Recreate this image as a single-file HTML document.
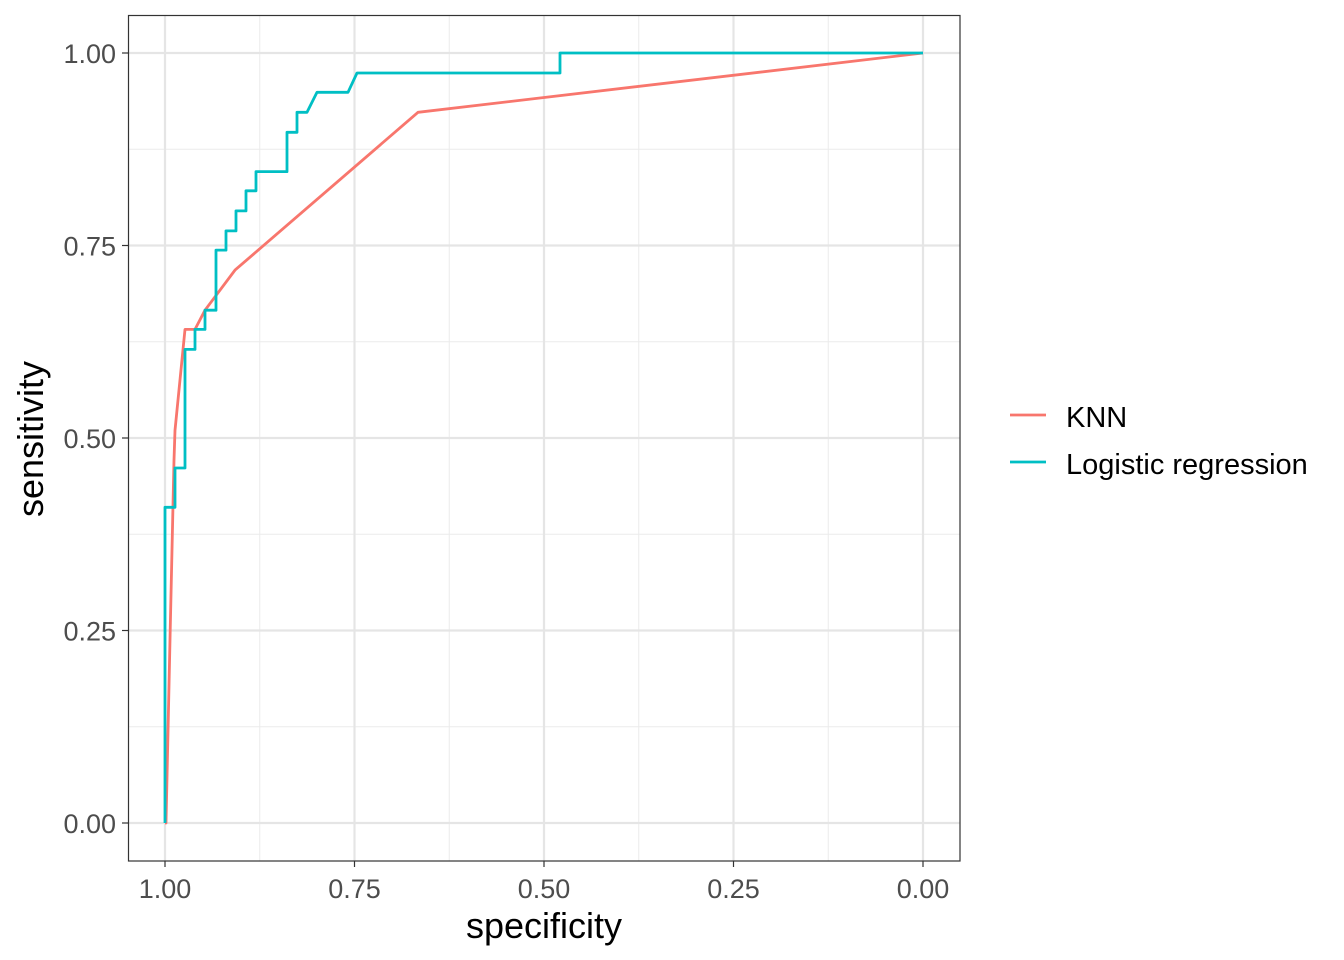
<!DOCTYPE html>
<html><head><meta charset="utf-8"><style>
body{margin:0;background:#fff;}
svg{display:block;font-family:"Liberation Sans",Arial,sans-serif;}
</style></head><body>
<svg id="chart" width="1344" height="960" viewBox="0 0 1344 960">
<rect width="1344" height="960" fill="#fff"/>
<g id="grid"></g><g id="series"></g><g id="axes"></g>
<rect x="128.5" y="15.5" width="831.5" height="845.5" fill="none" stroke="#333" stroke-width="1.2"/>
<text x="544" y="938" text-anchor="middle" font-size="36" fill="#000">specificity</text>
<text transform="translate(43,439) rotate(-90)" text-anchor="middle" font-size="36" fill="#000">sensitivity</text>
<g>
<line x1="1010" y1="415" x2="1046" y2="415" stroke="#F8766D" stroke-width="2.8"/>
<text x="1066" y="427" font-size="29" fill="#000">KNN</text>
<line x1="1010" y1="462" x2="1046" y2="462" stroke="#00BFC4" stroke-width="2.8"/>
<text x="1066" y="474" font-size="29" fill="#000">Logistic regression</text>
</g>
</svg>
<script>
const xTicks=[1.00,0.75,0.50,0.25,0.00];
const xTickLabels=["1.00","0.75","0.50","0.25","0.00"];
const yTicks=[0,0.25,0.5,0.75,1];
const yTickLabels=["0.00","0.25","0.50","0.75","1.00"];
const knnSpec=[1,0.9987,0.9934,0.9881,0.9868,0.9736,0.9604,0.9472,0.9077,0.6662,0];
const knnSens=[0,0,0.238,0.471,0.510,0.641,0.641,0.666,0.718,0.923,1];
const lrSpec=[1,1,0.9868,0.9868,0.9736,0.9736,0.9604,0.9604,0.9472,0.9472,0.9327,0.9327,0.9195,0.9195,0.9063,0.9063,0.8931,0.8931,0.8799,0.8799,0.8391,0.8391,0.8259,0.8259,0.8127,0.7995,0.7586,0.7467,0.4789,0.4789,0];
const lrSens=[0,0.410,0.410,0.461,0.461,0.615,0.615,0.641,0.641,0.666,0.666,0.744,0.744,0.769,0.769,0.795,0.795,0.821,0.821,0.846,0.846,0.897,0.897,0.923,0.923,0.949,0.949,0.974,0.974,1,1];
const NS="http://www.w3.org/2000/svg";
const xS=v=>165+(1-v)*758;
const yS=v=>823-v*770;
function mk(t,a,p){const e=document.createElementNS(NS,t);for(const k in a)e.setAttribute(k,a[k]);p.appendChild(e);return e;}
const grid=document.getElementById('grid'),axes=document.getElementById('axes'),ser=document.getElementById('series');
mk('rect',{x:128.5,y:15.5,width:831.5,height:845.5,fill:'#fff'},grid);
for(let i=0;i<xTicks.length-1;i++){const m=(xTicks[i]+xTicks[i+1])/2;const l=mk('line',{x1:xS(m),x2:xS(m),y1:15,y2:861,stroke:'#ebebeb','stroke-width':1},grid);

}
for(let i=0;i<yTicks.length-1;i++){const m=(yTicks[i]+yTicks[i+1])/2;const l=mk('line',{x1:128,x2:960,y1:yS(m),y2:yS(m),stroke:'#ebebeb','stroke-width':1},grid);

}
xTicks.forEach((v,i)=>{const l=mk('line',{x1:xS(v),x2:xS(v),y1:15,y2:861,stroke:'#e5e5e5','stroke-width':2.2},grid);


const t=mk('line',{x1:xS(v),x2:xS(v),y1:861,y2:867,stroke:'#333','stroke-width':1.2},axes);


const tx=mk('text',{x:xS(v),y:898,'text-anchor':'middle','font-size':27,fill:'#4d4d4d'},axes);tx.textContent=xTickLabels[i];

});
yTicks.forEach((v,i)=>{const l=mk('line',{x1:128,x2:960,y1:yS(v),y2:yS(v),stroke:'#e5e5e5','stroke-width':2.2},grid);


const t=mk('line',{x1:122,x2:128,y1:yS(v),y2:yS(v),stroke:'#333','stroke-width':1.2},axes);


const tx=mk('text',{x:116,y:yS(v)+10,'text-anchor':'end','font-size':27,fill:'#4d4d4d'},axes);tx.textContent=yTickLabels[i];

});
function path(sx,sy){return sx.map((v,i)=>(i?'L':'M')+xS(v).toFixed(1)+','+yS(sy[i]).toFixed(1)).join('');}
const p1=mk('path',{d:path(knnSpec,knnSens),fill:'none',stroke:'#F8766D','stroke-width':2.8,'stroke-linejoin':'round'},ser);


const p2=mk('path',{d:path(lrSpec,lrSens),fill:'none',stroke:'#00BFC4','stroke-width':2.8,'stroke-linejoin':'round'},ser);


</script>
</body></html>
